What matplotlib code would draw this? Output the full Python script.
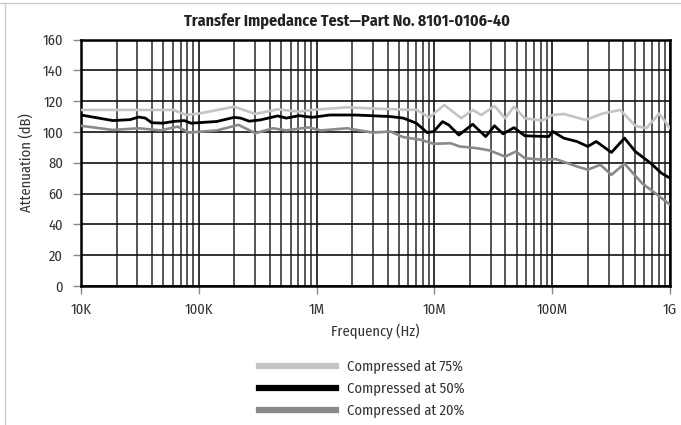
import matplotlib
matplotlib.use("Agg")
import matplotlib.pyplot as plt
from matplotlib import font_manager
from matplotlib.lines import Line2D
from matplotlib.ticker import LogLocator, NullFormatter, FixedLocator
import numpy as np

# frequency (Hz) / attenuation (dB)
freq_50 = [1.0e4, 1.86e4, 2.61e4, 3.09e4, 3.51e4, 3.98e4, 4.92e4, 6.08e4, 7.52e4, 8.55e4,
           1.42e5, 2.0e5, 2.26e5, 2.68e5, 3.32e5, 4.66e5, 5.52e5, 7.11e5, 9.17e5, 1.29e6,
           2.14e6, 4.22e6, 5.44e6, 7.02e6, 8.67e6, 9.85e6, 1.17e7, 1.32e7, 1.61e7, 2.11e7,
           2.72e7, 3.23e7, 3.82e7, 4.73e7, 5.85e7, 9.31e7, 1.01e8, 1.25e8, 1.62e8, 2.0e8,
           2.36e8, 3.18e8, 4.10e8, 5.07e8, 6.82e8, 8.43e8, 1.0e9]
att_50 = [111, 107.4, 108, 109.7, 109, 106, 105.7, 106.8, 107.4, 105.7,
          106.8, 109.5, 109, 107, 107.8, 110.4, 109, 110.6, 109.5, 111,
          111, 110, 109, 105.7, 99.6, 100.3, 106.7, 104.6, 98, 105,
          97, 104, 98.8, 102.8, 97.5, 97, 100.3, 96, 93.8, 90.6,
          93.8, 86.7, 96, 87.3, 79.8, 73.3, 70]

freq_75 = [1.0e4, 1.86e4, 6.08e4, 7.85e4, 1.01e5, 2.0e5, 3.02e5, 4.66e5, 7.11e5, 9.17e5,
           1.81e6, 3.55e6, 7.02e6, 9.06e6, 1.21e7, 1.69e7, 2.11e7, 2.50e7, 3.23e7, 3.98e7,
           4.73e7, 5.85e7, 8.17e7, 1.01e8, 1.25e8, 1.91e8, 2.69e8, 3.77e8, 5.07e8, 6.28e8,
           8.09e8, 1.0e9]
att_75 = [114.3, 114.3, 114.3, 111, 112, 116.4, 111.7, 114.7, 113.2, 114.3,
          116, 115, 114.3, 109.5, 117.5, 108.9, 114.3, 111, 116.9, 108.9,
          116.4, 108.9, 107.4, 111, 111.7, 107.8, 112, 114.3, 104, 102.4,
          112, 102.4]

freq_20 = [1.0e4, 1.86e4, 3.09e4, 4.72e4, 6.62e4, 8.18e4, 1.42e5, 2.17e5, 3.02e5, 4.28e5,
           5.52e5, 8.45e5, 1.09e6, 1.81e6, 2.99e6, 4.22e6, 5.44e6, 7.60e6, 9.85e6, 1.37e7,
           1.63e7, 2.28e7, 2.94e7, 3.98e7, 4.91e7, 5.85e7, 8.17e7, 1.07e8, 1.62e8, 2.0e8,
           2.56e8, 3.18e8, 4.10e8, 5.77e8, 8.09e8, 1.0e9]
att_20 = [104, 101.3, 102.4, 101, 103.5, 99.6, 101, 104.6, 99.2, 102.4,
          101, 103, 101, 102.4, 99.6, 100.3, 96.6, 95, 92.3, 92.7,
          90.6, 89.5, 88, 84, 87.3, 83, 82, 82.4, 77.6, 75.5,
          78.7, 72.2, 79.4, 66.8, 58.2, 52.8]

x_ticks = [1e4, 1e5, 1e6, 1e7, 1e8, 1e9]
x_labels = ["10K", "100K", "1M", "10M", "100M", "1G"]
y_ticks = [0, 20, 40, 60, 80, 100, 120, 140, 160]
labels = ["Compressed at 75%", "Compressed at 50%", "Compressed at 20%"]

# pick a narrow humanist face if one is around
have = {f.name for f in font_manager.fontManager.ttflist}
family = "DejaVu Sans"
for name in ["Fira Sans Condensed", "Open Sans Condensed", "Encode Sans Condensed",
             "Asap Condensed", "PT Sans Narrow", "Roboto Condensed", "Archivo Narrow"]:
    if name in have:
        family = name
        break
plt.rcParams["font.family"] = [family, "DejaVu Sans"]

c75 = "#c4c4c4"
c50 = "#000000"
c20 = "#8a8a8a"
txt = "#333333"

fig = plt.figure(figsize=(6.81, 4.25), dpi=100)
ax = fig.add_axes([0.119, 0.327, 0.865, 0.580])

ax.set_xscale("log")
ax.set_xlim(1e4, 1e9)
ax.set_ylim(0, 160)

# grid
ax.xaxis.set_major_locator(FixedLocator(x_ticks))
ax.xaxis.set_minor_locator(LogLocator(base=10, subs=np.arange(2, 10)))
ax.xaxis.set_minor_formatter(NullFormatter())
ax.set_xticks(x_ticks)
ax.set_xticklabels(x_labels)
ax.set_yticks(y_ticks)
ax.grid(True, which="major", axis="both", color="#111111", lw=1.2)
ax.grid(True, which="minor", axis="x", color="#4a4a4a", lw=1.3)
ax.set_axisbelow(True)

ax.plot(freq_75, att_75, color=c75, lw=1.9, zorder=3)
ax.plot(freq_20, att_20, color=c20, lw=1.9, zorder=3)
ax.plot(freq_50, att_50, color=c50, lw=2.0, zorder=4)

for s in ax.spines.values():
    s.set_linewidth(1.8)
    s.set_color("black")

ax.tick_params(axis="both", which="major", labelsize=10.5, labelcolor=txt,
               color="#888888", length=6, width=1)
ax.tick_params(axis="x", which="minor", length=0)
ax.tick_params(axis="x", pad=6)
ax.tick_params(axis="y", pad=7)

ax.set_xlabel("Frequency (Hz)", fontsize=10.5, color=txt, labelpad=5)
ax.set_ylabel("Attenuation (dB)", fontsize=10.5, color=txt, labelpad=6)
fig.text(0.509, 0.949, "Transfer Impedance Test\u2014Part No. 8101-0106-40",
         fontsize=11.5, fontweight="bold", color="#222222", ha="center", va="center")

handles = [Line2D([], [], color=c75, lw=4.5),
           Line2D([], [], color=c50, lw=4.5),
           Line2D([], [], color=c20, lw=4.5)]
fig.legend(handles, labels, loc="upper left", bbox_to_anchor=(0.365, 0.178),
           frameon=False, fontsize=10.5, handlelength=5.3, handletextpad=0.75,
           labelspacing=0.55, labelcolor=txt, borderpad=0.2)

# light border of the original image (top and left)
fig.add_artist(Line2D([0.0, 1.0], [0.993, 0.993], color="#cccccc", lw=1, transform=fig.transFigure))
fig.add_artist(Line2D([0.008, 0.008], [0.0, 0.993], color="#cccccc", lw=1, transform=fig.transFigure))

fig.savefig("out.png", dpi=100)
